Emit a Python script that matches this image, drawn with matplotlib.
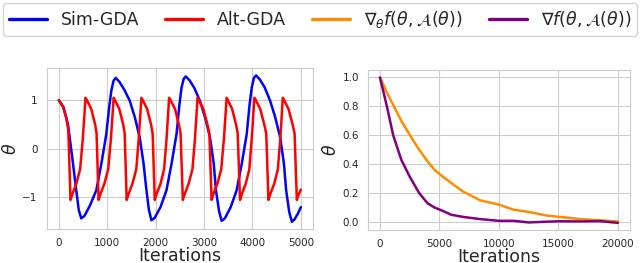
import matplotlib
matplotlib.use("Agg")
import matplotlib.pyplot as plt
import seaborn as sns

# ---- data ----
# left panel: theta over iterations
sim_iter = [0, 100, 190, 280, 360, 410, 463, 530, 650, 775, 880, 980, 1040, 1085, 1130, 1175,
            1250, 1350, 1465, 1570, 1670, 1750, 1810, 1860, 1913, 1980, 2100, 2224, 2330, 2431,
            2490, 2535, 2580, 2624, 2700, 2800, 2914, 3020, 3122, 3200, 3246, 3310, 3363, 3430,
            3550, 3674, 3780, 3881, 3940, 3985, 4030, 4075, 4150, 4250, 4365, 4470, 4572, 4650,
            4696, 4760, 4814, 4870, 4940, 5000]
sim_theta = [1.0, 0.85, 0.5, -0.2, -0.85, -1.25, -1.43, -1.38, -1.15, -0.85, -0.3, 0.3, 0.85, 1.2,
             1.4, 1.46, 1.38, 1.22, 0.99, 0.65, 0.24, -0.3, -0.85, -1.25, -1.47, -1.42, -1.2, -0.85,
             -0.3, 0.3, 0.9, 1.26, 1.44, 1.49, 1.41, 1.25, 0.99, 0.65, 0.24, -0.3, -0.85, -1.28,
             -1.48, -1.43, -1.2, -0.85, -0.3, 0.3, 0.9, 1.26, 1.46, 1.51, 1.43, 1.27, 0.99, 0.65,
             0.24, -0.3, -0.85, -1.3, -1.5, -1.45, -1.33, -1.2]

alt_iter = [0, 80, 150, 195, 242,
            272, 360, 440, 495, 552, 580, 670, 750, 780, 822,
            852, 940, 1020, 1075, 1133, 1160, 1250, 1330, 1360, 1402,
            1432, 1520, 1600, 1650, 1706, 1735, 1825, 1905, 1938, 1982,
            2012, 2100, 2175, 2225, 2279, 2310, 2400, 2480, 2515, 2562,
            2592, 2680, 2760, 2812, 2866, 2895, 2985, 3070, 3110, 3156,
            3186, 3275, 3355, 3410, 3467, 3495, 3580, 3660, 3695, 3743,
            3773, 3860, 3935, 3985, 4040, 4070, 4160, 4245, 4285, 4330,
            4360, 4450, 4525, 4575, 4627, 4655, 4745, 4830, 4870, 4917,
            4950, 5000]
alt_theta = [1.0, 0.88, 0.65, 0.4, -1.05,
             -0.95, -0.72, -0.42, 0.2, 1.05, 1.0, 0.82, 0.5, 0.32, -1.05,
             -0.95, -0.72, -0.42, 0.2, 1.05, 1.0, 0.82, 0.5, 0.32, -1.05,
             -0.95, -0.72, -0.42, 0.2, 1.05, 1.0, 0.82, 0.5, 0.32, -1.05,
             -0.95, -0.72, -0.42, 0.2, 1.05, 1.0, 0.82, 0.5, 0.32, -1.05,
             -0.95, -0.72, -0.42, 0.2, 1.05, 1.0, 0.82, 0.5, 0.32, -1.05,
             -0.95, -0.72, -0.42, 0.2, 1.05, 1.0, 0.82, 0.5, 0.32, -1.05,
             -0.95, -0.72, -0.42, 0.2, 1.05, 1.0, 0.82, 0.5, 0.32, -1.05,
             -0.95, -0.72, -0.42, 0.2, 1.05, 1.0, 0.82, 0.5, 0.32, -1.05,
             -0.95, -0.84]

# right panel: gradient-based dynamics
grad_iter = [0, 300, 560, 1120, 1800, 2530, 3300, 4000, 4600, 5340, 6000, 7000, 8430, 10000,
             11240, 12500, 14000, 15000, 16860, 18500, 20000]
grad_theta = [1.0, 0.95, 0.9, 0.81, 0.70, 0.60, 0.50, 0.42, 0.36, 0.31, 0.27, 0.21, 0.15, 0.12,
              0.085, 0.07, 0.045, 0.036, 0.02, 0.012, 0.003]
total_theta = [1.0, 0.9, 0.81, 0.60, 0.43, 0.31, 0.2, 0.13, 0.10, 0.075, 0.05, 0.035, 0.02, 0.008,
               0.008, -0.003, 0.002, 0.005, 0.004, 0.006, -0.006]

# ---- figure ----
sns.set_style("whitegrid")
fig = plt.figure(figsize=(6.4, 2.63), dpi=100)

ax1 = fig.add_axes([0.073, 0.129, 0.416, 0.612])
ax2 = fig.add_axes([0.575, 0.125, 0.409, 0.608])

l1, = ax1.plot(sim_iter, sim_theta, color="blue", lw=1.8)
l2, = ax1.plot(alt_iter, alt_theta, color="red", lw=1.8)
l3, = ax2.plot(grad_iter, grad_theta, color="darkorange", lw=1.8)
l4, = ax2.plot(grad_iter, total_theta, color="purple", lw=1.8)

ax1.set_yticks([-1, 0, 1])
ax1.set_xticks([0, 1000, 2000, 3000, 4000, 5000])
ax2.set_xticks([0, 5000, 10000, 15000, 20000])
ax2.set_yticks([0.0, 0.2, 0.4, 0.6, 0.8, 1.0])

for ax in (ax1, ax2):
    ax.set_xlabel("Iterations", fontsize=12.5, labelpad=-1)
    ax.set_ylabel(r"$\theta$", fontsize=12.5, labelpad=2)
    ax.tick_params(labelsize=7.5, pad=3)

leg = fig.legend([l1, l2, l3, l4],
                 ["Sim-GDA", "Alt-GDA",
                  r"$\nabla_\theta f(\theta, \mathcal{A}(\theta))$",
                  r"$\nabla f(\theta, \mathcal{A}(\theta))$"],
                 loc="upper center", bbox_to_anchor=(0.5, 1.0), ncol=4,
                 fontsize=12.5, handlelength=2.2, handletextpad=0.8,
                 columnspacing=1.5, borderpad=0.35, frameon=True,
                 borderaxespad=0.15)
for h in leg.get_lines():
    h.set_linewidth(2.4)

fig.savefig("out.png", dpi=100)
